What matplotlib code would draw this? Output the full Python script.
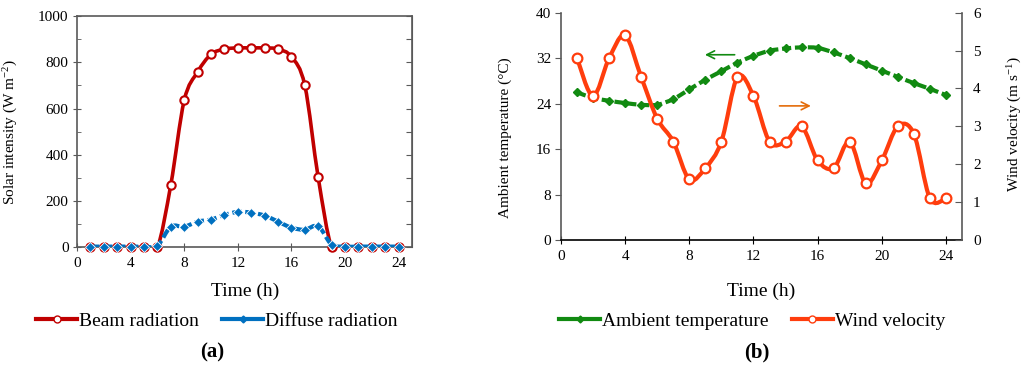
import numpy as np
import matplotlib
matplotlib.use("Agg")
import matplotlib.pyplot as plt
from matplotlib.path import Path
from matplotlib.patches import PathPatch
from matplotlib.lines import Line2D

plt.rcParams['font.family'] = ['Liberation Serif', 'DejaVu Serif']
plt.rcParams['mathtext.fontset'] = 'custom'
plt.rcParams['mathtext.rm'] = 'Liberation Serif'
plt.rcParams['mathtext.it'] = 'Liberation Serif:italic'

hours = list(range(1, 25))

# (a) solar radiation, W m-2
beam = [0, 0, 0, 0, 0, 0, 270, 635, 758, 834, 857, 862, 862, 862, 857, 824, 700, 302,
        0, 0, 0, 0, 0, 0]
diffuse = [3, 3, 3, 3, 3, 7, 89, 89, 111, 120, 140, 153, 150, 137, 111, 85, 76, 91,
           12, 3, 3, 3, 3, 3]

# (b) weather
temperature = [26.0, 25.0, 24.5, 24.1, 23.8, 23.8, 24.8, 26.5, 28.2, 29.7, 31.2, 32.4,
               33.3, 33.7, 33.9, 33.8, 33.0, 32.0, 30.9, 29.8, 28.7, 27.6, 26.6, 25.5]
wind = [4.8, 3.8, 4.8, 5.4, 4.3, 3.2, 2.6, 1.6, 1.9, 2.6, 4.3, 3.8, 2.6, 2.6, 3.0, 2.1,
        1.9, 2.6, 1.5, 2.1, 3.0, 2.8, 1.1, 1.1]

RED = '#C00000'
BLUE = '#0070C0'
GREEN = '#118A11'
ORANGE = '#FF3D0D'
SPINE = '#595959'


def smooth_path(x, y):
    # Excel-style smoothed line through the points (cubic Bezier segments)
    n = len(x)
    verts = [(x[0], y[0])]
    codes = [Path.MOVETO]
    for i in range(n - 1):
        a = max(i - 1, 0)
        b = min(i + 2, n - 1)
        c1 = (x[i] + (x[i + 1] - x[a]) / 6, y[i] + (y[i + 1] - y[a]) / 6)
        c2 = (x[i + 1] - (x[b] - x[i]) / 6, y[i + 1] - (y[b] - y[i]) / 6)
        verts += [c1, c2, (x[i + 1], y[i + 1])]
        codes += [Path.CURVE4] * 3
    return Path(verts, codes)


def add_line(ax, x, y, color, lw, ls='-', z=2):
    p = PathPatch(smooth_path(x, y), fill=False, edgecolor=color, lw=lw,
                  linestyle=ls, capstyle='butt', zorder=z)
    ax.add_patch(p)


fig = plt.figure(figsize=(10.24, 3.81), dpi=100)

# ---------------- (a) ----------------
ax = fig.add_axes([77 / 1024, 1 - 247.3 / 381, 335 / 1024, 231.3 / 381])
add_line(ax, hours, beam, RED, 2.6, z=2)
ax.plot(hours, beam, ls='none', marker='o', ms=6, mfc='white', mec=RED, mew=1.5,
        zorder=3, clip_on=False)
add_line(ax, hours, diffuse, BLUE, 3.0, ls=(0, (2.2, 0.9)), z=4)
ax.plot(hours, diffuse, ls='none', marker='D', ms=4.6, color=BLUE, mec='white', mew=0.6,
        zorder=5, clip_on=False)

ax.set_xlim(0, 25)
ax.set_ylim(0, 1000)
ax.set_xticks(range(0, 25, 4))
ax.set_yticks(range(0, 1001, 200))
ax.set_yticks(range(0, 1001, 100), minor=True)
for s in ax.spines.values():
    s.set_color(SPINE)
    s.set_linewidth(1.2)
ax.tick_params(axis='y', which='major', direction='inout', length=6, color=SPINE,
               labelsize=11, pad=3)
ax.tick_params(axis='y', which='minor', direction='in', length=3, color=SPINE)
ax.tick_params(axis='x', which='major', direction='inout', length=6, color=SPINE,
               labelsize=11, pad=4)
sec = ax.secondary_yaxis('right')
sec.set_yticks(range(0, 1001, 100))
sec.tick_params(direction='in', length=4, color=SPINE, labelright=False)
sec.spines['right'].set_color(SPINE)
ax.set_ylabel('Solar intensity (W m$^{-2}$)', fontsize=11)
ax.yaxis.set_label_coords(-0.17, 0.5)

# ---------------- (b) ----------------
bx = fig.add_axes([561 / 1024, 1 - 240 / 381, 401 / 1024, 227.3 / 381])
add_line(bx, hours, temperature, GREEN, 3.0, ls=(0, (2.2, 0.9)), z=2)
bx.plot(hours, temperature, ls='none', marker='D', ms=3.8, color=GREEN, zorder=3)
bx.set_xlim(0, 25)
bx.set_ylim(0, 40)
bx.set_xticks(range(0, 25, 4))
bx.set_yticks(range(0, 41, 8))
bx.spines['top'].set_visible(False)
bx.spines['right'].set_visible(False)
bx.spines['left'].set_color(SPINE)
bx.spines['left'].set_linewidth(1.2)
bx.spines['bottom'].set_color('black')
bx.spines['bottom'].set_linewidth(1.2)
bx.tick_params(axis='y', direction='out', length=4, color=SPINE, labelsize=11, pad=3)
bx.tick_params(axis='x', direction='inout', length=6, color='black', labelsize=11, pad=4)
bx.set_ylabel('Ambient temperature (\u00b0C)', fontsize=11)
bx.yaxis.set_label_coords(-0.122, 0.45)

wx = bx.twinx()
add_line(wx, hours, wind, ORANGE, 3.0, z=2)
wx.plot(hours, wind, ls='none', marker='o', ms=7, mfc='white', mec=ORANGE, mew=1.6,
        zorder=3)
wx.set_ylim(0, 6)
wx.set_yticks(range(0, 7))
wx.spines['top'].set_visible(False)
wx.spines['left'].set_visible(False)
wx.spines['bottom'].set_visible(False)
wx.spines['right'].set_color(SPINE)
wx.spines['right'].set_linewidth(1.2)
wx.tick_params(axis='y', direction='in', length=5, color=SPINE, labelsize=11, pad=8)
wx.set_ylabel('Wind velocity (m s$^{-1}$)', fontsize=11, rotation=90)
wx.yaxis.set_label_coords(1.108, 0.51)

bx.annotate('', xy=(8.8, 32.6), xytext=(11.0, 32.6),
            arrowprops=dict(arrowstyle='->', color=GREEN, lw=1.2, mutation_scale=14))
bx.annotate('', xy=(15.75, 23.6), xytext=(13.45, 23.6),
            arrowprops=dict(arrowstyle='->', color='#E46C0A', lw=1.2, mutation_scale=14))

# ---------------- shared labels / legends ----------------
fig.text(245 / 1024, 1 - 291 / 381, 'Time (h)', ha='center', va='center', fontsize=14)
fig.text(761 / 1024, 1 - 291 / 381, 'Time (h)', ha='center', va='center', fontsize=14)

h_beam = Line2D([], [], color=RED, lw=3, marker='o', ms=5, mfc='white', mec=RED)
h_diff = Line2D([], [], color=BLUE, lw=3, marker='D', ms=3.5)
h_temp = Line2D([], [], color=GREEN, lw=3, marker='D', ms=3.5)
h_wind = Line2D([], [], color=ORANGE, lw=3, marker='o', ms=5, mfc='white', mec=ORANGE)

leg_kw = dict(loc='center', ncol=2, frameon=False, fontsize=14, handlelength=2.1,
              handletextpad=0.1, columnspacing=1.2, borderpad=0, borderaxespad=0)
fig.legend([h_beam, h_diff], ['Beam radiation', 'Diffuse radiation'],
           bbox_to_anchor=(217 / 1024, 1 - 321 / 381), **leg_kw)
fig.legend([h_temp, h_wind], ['Ambient temperature', 'Wind velocity'],
           bbox_to_anchor=(752 / 1024, 1 - 321 / 381), **leg_kw)

fig.text(212 / 1024, 1 - 352 / 381, '(a)', ha='center', va='center', fontsize=15,
         fontweight='bold')
fig.text(757 / 1024, 1 - 352 / 381, '(b)', ha='center', va='center', fontsize=15,
         fontweight='bold')

fig.savefig('out.png', dpi=100)
